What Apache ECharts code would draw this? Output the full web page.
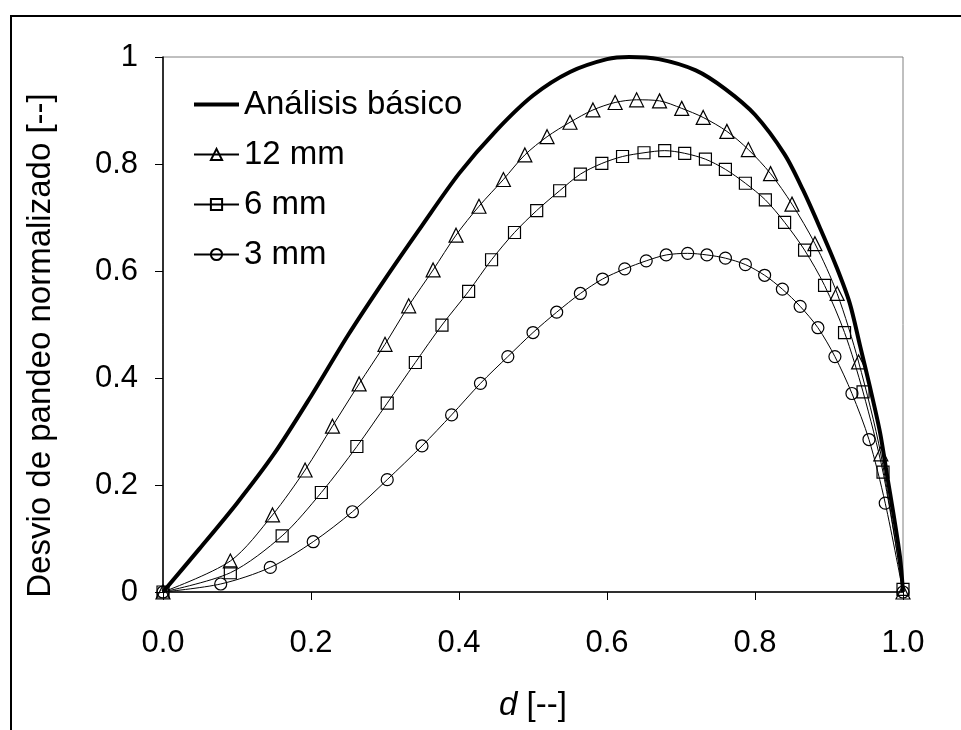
<!DOCTYPE html>
<html>
<head>
<meta charset="utf-8">
<script src="https://cdn.jsdelivr.net/npm/echarts@6/dist/echarts.min.js"></script>
<style>
  html, body { margin: 0; padding: 0; background: #fff; }
  #frame { position: absolute; left: 10px; top: 15px; width: 1000px; height: 800px;
           border-top: 2px solid #000; border-left: 2px solid #000; }
  #chart { position: absolute; left: 0; top: 0; width: 961px; height: 730px; }
</style>
</head>
<body>
<div id="frame"></div>
<div id="chart"></div>
<script>
// Análisis básico (curva continua)
const xBasico = [0, 0.05, 0.1, 0.15, 0.2, 0.25, 0.3, 0.35, 0.4, 0.45, 0.5, 0.55, 0.6, 0.63, 0.67, 0.72, 0.76, 0.8, 0.84, 0.865, 0.888, 0.91, 0.928, 0.942, 0.955, 0.969, 0.978, 0.987, 0.996, 1.0];
const yBasico = [0, 0.082, 0.166, 0.258, 0.366, 0.480, 0.585, 0.685, 0.782, 0.862, 0.928, 0.972, 0.996, 1.0, 0.996, 0.975, 0.940, 0.892, 0.818, 0.751, 0.680, 0.608, 0.540, 0.460, 0.385, 0.298, 0.222, 0.147, 0.065, 0];

// 12 mm
const x12 = [0, 0.091, 0.148, 0.192, 0.229, 0.265, 0.300, 0.332, 0.365, 0.396, 0.427, 0.460, 0.489, 0.519, 0.550, 0.581, 0.611, 0.640, 0.671, 0.701, 0.730, 0.762, 0.791, 0.821, 0.850, 0.881, 0.911, 0.940, 0.970, 1.0];
const y12 = [0, 0.058, 0.144, 0.228, 0.310, 0.389, 0.463, 0.535, 0.602, 0.667, 0.721, 0.771, 0.817, 0.851, 0.878, 0.901, 0.915, 0.920, 0.918, 0.904, 0.887, 0.861, 0.827, 0.782, 0.725, 0.651, 0.558, 0.430, 0.258, 0];

// 6 mm
const x6 = [0, 0.091, 0.161, 0.214, 0.262, 0.303, 0.341, 0.377, 0.413, 0.444, 0.475, 0.505, 0.536, 0.564, 0.593, 0.621, 0.650, 0.678, 0.705, 0.733, 0.760, 0.787, 0.814, 0.840, 0.867, 0.894, 0.921, 0.946, 0.973, 1.0];
const y6 = [0, 0.036, 0.105, 0.186, 0.272, 0.353, 0.429, 0.499, 0.562, 0.621, 0.672, 0.713, 0.750, 0.781, 0.801, 0.814, 0.821, 0.825, 0.820, 0.809, 0.790, 0.764, 0.733, 0.691, 0.639, 0.573, 0.485, 0.374, 0.224, 0.005];

// 3 mm
const x3 = [0, 0.078, 0.145, 0.203, 0.256, 0.303, 0.350, 0.390, 0.429, 0.466, 0.500, 0.532, 0.564, 0.594, 0.624, 0.653, 0.680, 0.709, 0.735, 0.760, 0.787, 0.813, 0.837, 0.861, 0.885, 0.908, 0.931, 0.954, 0.976, 1.0];
const y3 = [0, 0.015, 0.046, 0.094, 0.150, 0.210, 0.273, 0.331, 0.390, 0.440, 0.485, 0.523, 0.558, 0.585, 0.604, 0.619, 0.630, 0.633, 0.630, 0.624, 0.612, 0.592, 0.566, 0.534, 0.494, 0.440, 0.371, 0.285, 0.166, 0];

const FONT = "'Liberation Sans', Arial, sans-serif";
const pairs = (xs, ys) => xs.map((x, i) => [x, ys[i]]);

const markerSeries = (name, xs, ys, symbol, size) => ({
  name,
  type: "line",
  smooth: 0.3,
  data: pairs(xs, ys),
  symbol,
  symbolSize: size,
  showAllSymbol: true,
  lineStyle: { color: "#000", width: 1 },
  itemStyle: { color: "rgba(0,0,0,0)", borderColor: "#000", borderWidth: 1.2 },
  emphasis: { disabled: true },
  animation: false
});

const chart = echarts.init(document.getElementById("chart"), null, { renderer: "canvas" });
chart.setOption({
  backgroundColor: "transparent",
  textStyle: { fontFamily: FONT, color: "#000" },
  grid: {
    left: 163, right: 58, top: 57, bottom: 138,
    show: true, borderColor: "#808080", borderWidth: 1,
    backgroundColor: "transparent"
  },
  legend: {
    orient: "vertical",
    left: 187, top: 83,
    itemWidth: 45, itemHeight: 14, itemGap: 17,
    textStyle: { fontFamily: FONT, fontSize: 33, color: "#000" },
    data: [
      {
        name: "Análisis básico",
        itemStyle: { color: "rgba(0,0,0,0)", borderWidth: 0 },
        lineStyle: { color: "#000", width: 4 }
      },
      "12 mm", "6 mm", "3 mm"
    ]
  },
  xAxis: {
    type: "value",
    min: 0, max: 1, interval: 0.2,
    name: "{i|d} [--]",
    nameLocation: "middle",
    nameGap: 97,
    nameTextStyle: {
      fontFamily: FONT, fontSize: 33, color: "#000",
      rich: { i: { fontFamily: FONT, fontSize: 33, fontStyle: "italic", color: "#000" } }
    },
    axisLine: { lineStyle: { color: "#000", width: 1.5 } },
    axisTick: { inside: false, length: 8, lineStyle: { color: "#000" } },
    axisLabel: { fontFamily: FONT, fontSize: 31, color: "#000", margin: 36,
                 formatter: (v) => v.toFixed(1) },
    splitLine: { show: false }
  },
  yAxis: {
    type: "value",
    min: 0, max: 1, interval: 0.2,
    name: "Desvio de pandeo normalizado [--]",
    nameLocation: "middle",
    nameGap: 106,
    nameTextStyle: { fontFamily: FONT, fontSize: 33, color: "#000", padding: [0, 42, 0, 0] },
    axisLine: { show: true, lineStyle: { color: "#000", width: 1.5 } },
    axisTick: { show: true, inside: false, length: 8, lineStyle: { color: "#000" } },
    axisLabel: { fontFamily: FONT, fontSize: 31, color: "#000", margin: 25,
                 formatter: (v) => (v === 0 ? "0" : v === 1 ? "1" : v.toFixed(1)) },
    splitLine: { show: false }
  },
  series: [
    {
      name: "Análisis básico",
      type: "line",
      smooth: 0.3,
      data: pairs(xBasico, yBasico),
      symbol: "none",
      lineStyle: { color: "#000", width: 4 },
      itemStyle: { color: "#000" },
      emphasis: { disabled: true },
      animation: false
    },
    markerSeries("12 mm", x12, y12, "triangle", 14),
    markerSeries("6 mm", x6, y6, "rect", 12),
    markerSeries("3 mm", x3, y3, "circle", 12)
  ]
});
</script>
</body>
</html>
